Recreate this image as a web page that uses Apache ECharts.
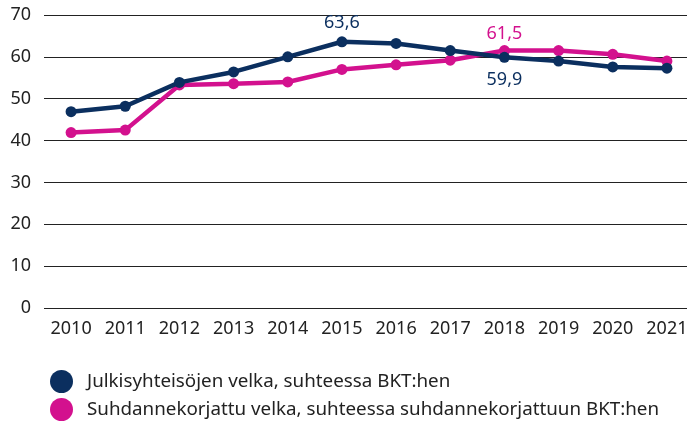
<!DOCTYPE html>
<html>
<head>
<meta charset="utf-8">
<script src="https://cdn.jsdelivr.net/npm/echarts@6/dist/echarts.min.js"></script>
<style>
  html, body { margin: 0; padding: 0; background: #fff; }
  #chart { width: 687px; height: 423px; }
</style>
</head>
<body>
<div id="chart"></div>
<script>
const years = ['2010', '2011', '2012', '2013', '2014', '2015', '2016', '2017', '2018', '2019', '2020', '2021']
const velka = [46.9, 48.2, 53.9, 56.4, 60.0, 63.6, 63.2, 61.5, 59.9, 59.0, 57.6, 57.3]
const suhdanne = [41.9, 42.5, 53.3, 53.6, 54.0, 57.0, 58.1, 59.2, 61.5, 61.5, 60.6, 59.0]
const seriesNames = ['Julkisyhteisöjen velka, suhteessa BKT:hen', 'Suhdannekorjattu velka, suhteessa suhdannekorjattuun BKT:hen']
const navy = '#0b2f5f'
const pink = '#d3118e'
const font = 'Noto Sans'

// which points get a value label: [position, distance]
const velkaLabels = { 5: ['top', 4], 8: ['bottom', 8] }
const suhdanneLabels = { 8: ['top', 2] }

function fmt(v) {
  return v.toFixed(1).replace('.', ',')
}

function withLabels(values, labels, color) {
  return values.map((v, i) => {
    if (labels[i] === undefined) return v
    return {
      value: v,
      label: {
        show: true,
        position: labels[i][0],
        distance: labels[i][1],
        color: color,
        fontFamily: font,
        fontSize: 18,
        formatter: p => fmt(p.value)
      }
    }
  })
}

const chart = echarts.init(document.getElementById('chart'))
chart.setOption({
  animation: false,
  grid: { left: 44, width: 650, top: 15, bottom: 115, outerBoundsMode: 'none' },
  legend: {
    orient: 'vertical',
    left: 50,
    top: 370,
    padding: 0,
    itemWidth: 23,
    itemHeight: 23,
    itemGap: 5,
    icon: 'circle',
    textStyle: { color: '#222', fontFamily: font, fontSize: 18.8, padding: [0, 0, 0, 9] },
    data: seriesNames
  },
  xAxis: {
    type: 'category',
    data: years,
    axisLine: { show: false },
    axisTick: { show: false },
    axisLabel: { color: '#222', fontFamily: font, fontSize: 18, margin: 12 }
  },
  yAxis: {
    type: 'value',
    min: 0,
    max: 70,
    interval: 10,
    axisLabel: { color: '#222', fontFamily: font, fontSize: 18, margin: 13 },
    splitLine: { lineStyle: { color: '#222', width: 1 } }
  },
  series: [
    {
      name: seriesNames[0],
      type: 'line',
      data: withLabels(velka, velkaLabels, navy),
      symbol: 'circle',
      symbolSize: 11,
      color: navy,
      lineStyle: { width: 4.5 },
      z: 3
    },
    {
      name: seriesNames[1],
      type: 'line',
      data: withLabels(suhdanne, suhdanneLabels, pink),
      symbol: 'circle',
      symbolSize: 11,
      color: pink,
      lineStyle: { width: 4.5 },
      z: 2
    }
  ]
})
</script>
</body>
</html>
